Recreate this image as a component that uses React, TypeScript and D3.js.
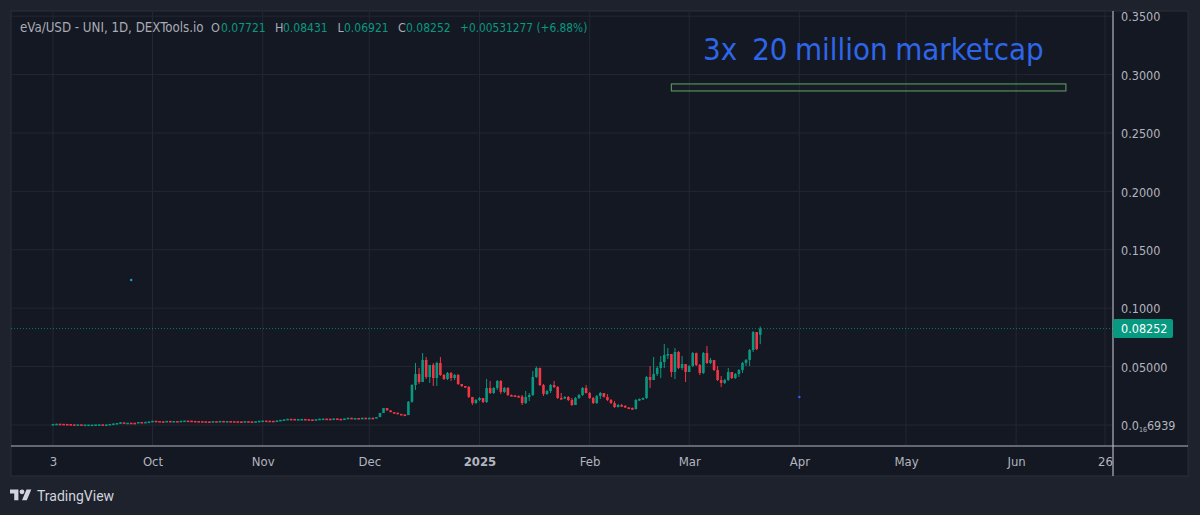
import React, { useEffect, useRef } from "react";
import * as d3 from "d3";

const WIDTH = 1200;
const HEIGHT = 515;
const FONT = '"DejaVu Sans Condensed", "DejaVu Sans", sans-serif';

const UP = "#089981";
const DOWN = "#f23645";

// daily closes, one array per month
const closeSep = [.0009, .0011, .0010, .0009, .0008, .0006, .0005, .0006, .0003, .0004, .0004, .0004, .0005, .0006, .0005, .0005, .0009, .0013, .0017, .0023, .0020, .0020, .0019, .0017, .0026, .0022, .0027, .0030];
const closeOct = [.0036, .0034, .0032, .0031, .0035, .0034, .0034, .0033, .0036, .0038, .0037, .0035, .0034, .0033, .0032, .0031, .0030, .0033, .0032, .0035, .0033, .0034, .0033, .0032, .0031, .0029, .0033, .0031, .0028, .0032, .0036];
const closeNov = [.0038, .0037, .0036, .0035, .0039, .0044, .0048, .0053, .0052, .0050, .0051, .0052, .0050, .0048, .0046, .0050, .0054, .0055, .0054, .0052, .0056, .0053, .0052, .0056, .0062, .0060, .0060, .0059, .0062, .0060];
const closeDec = [.0062, .0060, .0068, .0103, .0145, .0125, .0110, .0105, .0095, .0090, .0085, .0199, .0342, .0437, .0368, .0557, .0411, .0514, .0402, .0531, .0428, .0394, .0445, .0402, .0428, .0351, .0334, .0325, .0240, .0188, .0214];
const closeJan = [.0231, .0197, .0317, .0274, .0317, .0377, .0283, .0317, .0257, .0253, .0248, .0244, .0188, .0240, .0257, .0411, .0488, .0342, .0265, .0291, .0342, .0325, .0231, .0227, .0240, .0214, .0171, .0231, .0257, .0317, .0274];
const closeFeb = [.0231, .0188, .0248, .0274, .0240, .0214, .0188, .0154, .0171, .0163, .0150, .0146, .0137, .0214, .0223, .0231, .0411, .0385, .0437, .0488, .0539, .0599, .0608, .0454, .0625, .0488, .0522, .0454];
const closeMar = [.0505, .0616, .0514, .0445, .0616, .0531, .0557, .0471, .0385, .0360, .0385, .0454, .0402, .0437, .0471, .0531, .0557, .0642, .0796, .0650, .08252];

// wicks are only visible from the December breakout on
const firstWickDay = 100;
const highDec = [.0205, .0350, .0531, .0488, .0616, .0582, .0514, .0531, .0542, .0582, .0437, .0454, .0454, .0437, .0437, .0351, .0334, .0334, .0240, .0223];
const lowDec = [.0085, .0190, .0300, .0351, .0402, .0394, .0360, .0334, .0334, .0420, .0385, .0385, .0377, .0385, .0343, .0325, .0317, .0231, .0171, .0180];
const highJan = [.0240, .0214, .0394, .0377, .0325, .0385, .0385, .0325, .0325, .0261, .0257, .0253, .0257, .0291, .0274, .0462, .0501, .0492, .0351, .0300, .0351, .0377, .0334, .0274, .0248, .0248, .0231, .0240, .0265, .0325, .0342];
const lowJan = [.0205, .0188, .0188, .0265, .0265, .0300, .0265, .0274, .0248, .0244, .0240, .0235, .0171, .0180, .0205, .0248, .0402, .0334, .0248, .0257, .0274, .0317, .0223, .0218, .0223, .0205, .0163, .0180, .0223, .0248, .0270];
const highFeb = [.0283, .0240, .0257, .0283, .0274, .0265, .0223, .0205, .0180, .0180, .0171, .0154, .0150, .0223, .0227, .0235, .0419, .0505, .0582, .0505, .0591, .0693, .0659, .0608, .0659, .0633, .0591, .0522];
const lowFeb = [.0223, .0180, .0180, .0223, .0235, .0205, .0180, .0146, .0150, .0154, .0146, .0141, .0128, .0133, .0205, .0214, .0223, .0317, .0385, .0419, .0402, .0488, .0565, .0411, .0394, .0479, .0471, .0368];
const highMar = [.0514, .0625, .0620, .0522, .0625, .0676, .0574, .0548, .0505, .0419, .0394, .0488, .0454, .0445, .0479, .0539, .0565, .0651, .0805, .0796, .08431];
const lowMar = [.0454, .0496, .0505, .0428, .0437, .0522, .0522, .0462, .0377, .0325, .0351, .0377, .0394, .0394, .0411, .0445, .0505, .0505, .0625, .0640, .06921];

const lastOpen = 0.07721;
const lastClose = 0.08252;

const closes = [...closeSep, ...closeOct, ...closeNov, ...closeDec, ...closeJan, ...closeFeb, ...closeMar];
const highs = [...highDec, ...highJan, ...highFeb, ...highMar];
const lows = [...lowDec, ...lowJan, ...lowFeb, ...lowMar];

const priceTicks = [0.35, 0.3, 0.25, 0.2, 0.15, 0.1, 0.05, 0];
const priceLabels = ["0.3500", "0.3000", "0.2500", "0.2000", "0.1500", "0.1000", "0.05000", "0.0|16|6939"];

const timeTicks = ["2024-09-03", "2024-10-01", "2024-11-01", "2024-12-01", "2025-01-01", "2025-02-01", "2025-03-01", "2025-04-01", "2025-05-01", "2025-06-01", "2025-06-26"];
const timeLabels = ["3", "Oct", "Nov", "Dec", "2025", "Feb", "Mar", "Apr", "May", "Jun", "26"];

const strayDates = ["2024-09-25", "2025-04-01"];
const strayPrices = [0.1241, 0.024];
const strayColors = ["#19a7c4", "#2962ff"];

const zoneDates = ["2025-02-24", "2025-06-15"];
const zonePrices = [0.286, 0.292];

const legendParts = [
  { x: 20, text: "eVa/USD - UNI, 1D, DEXTools.io", fill: "#a9acb5", size: 13.2 },
  { x: 211, text: "O", fill: "#a9acb5", size: 12.5 },
  { x: 221, text: "0.07721", fill: UP, size: 12 },
  { x: 275, text: "H", fill: "#a9acb5", size: 12.5 },
  { x: 283, text: "0.08431", fill: UP, size: 12 },
  { x: 337.5, text: "L", fill: "#a9acb5", size: 12.5 },
  { x: 344, text: "0.06921", fill: UP, size: 12 },
  { x: 398, text: "C", fill: "#a9acb5", size: 12.5 },
  { x: 406, text: "0.08252", fill: UP, size: 12 },
  { x: 460, text: "+0.00531277 (+6.88%)", fill: UP, size: 11.8 },
];

const App: React.FC = () => {
  const svgRef = useRef<SVGSVGElement | null>(null);

  useEffect(() => {
    if (!svgRef.current) return;
    const svg = d3.select(svgRef.current);
    svg.selectAll("*").remove();
    svg.attr("font-family", FONT);

    const start = new Date("2024-09-03");
    const xScale = d3.scaleUtc().domain([start, new Date("2025-06-26")]).range([53, 1105]);
    const yScale = d3.scaleLinear().domain([0, 0.35]).range([425, 16.2]);

    const left = 11;
    const top = 11;
    const right = 1188;
    const bottom = 476;
    const axisX = 1113;
    const axisY = 446;

    svg.append("rect").attr("width", WIDTH).attr("height", HEIGHT).attr("fill", "#1e222d");
    svg
      .append("rect")
      .attr("x", left)
      .attr("y", top)
      .attr("width", right - left)
      .attr("height", bottom - top)
      .attr("fill", "#141823")
      .attr("stroke", "#2a2e39");

    const tickDates = timeTicks.map((d) => new Date(d));

    // grid
    svg
      .append("g")
      .selectAll("line")
      .data(tickDates)
      .enter()
      .append("line")
      .attr("x1", (d) => xScale(d))
      .attr("x2", (d) => xScale(d))
      .attr("y1", top)
      .attr("y2", axisY)
      .attr("stroke", "#232733");
    svg
      .append("g")
      .selectAll("line")
      .data(priceTicks)
      .enter()
      .append("line")
      .attr("x1", left)
      .attr("x2", axisX)
      .attr("y1", (d) => yScale(d))
      .attr("y2", (d) => yScale(d))
      .attr("stroke", "#232733");

    // target zone and note
    svg
      .append("rect")
      .attr("x", xScale(new Date(zoneDates[0])))
      .attr("y", yScale(zonePrices[1]))
      .attr("width", xScale(new Date(zoneDates[1])) - xScale(new Date(zoneDates[0])))
      .attr("height", yScale(zonePrices[0]) - yScale(zonePrices[1]))
      .attr("fill", "rgba(76,175,80,0.03)")
      .attr("stroke", "#568f5c")
      .attr("stroke-width", 1.2);
    svg
      .append("text")
      .attr("x", 703)
      .attr("y", 60)
      .attr("font-size", 30.9)
      .attr("word-spacing", -1.3)
      .attr("fill", "#2e66ea")
      .style("white-space", "pre")
      .text("3x  20 million marketcap");

    // last price line
    svg
      .append("line")
      .attr("x1", left)
      .attr("x2", axisX)
      .attr("y1", yScale(lastClose))
      .attr("y2", yScale(lastClose))
      .attr("stroke", UP)
      .attr("stroke-dasharray", "1 2")
      .attr("opacity", 0.75);

    // candles
    const candles = closes.map((close, i) => {
      const open = i === closes.length - 1 ? lastOpen : i === 0 ? close : closes[i - 1];
      const hasWick = i >= firstWickDay;
      return {
        date: d3.utcDay.offset(start, i),
        open,
        close,
        high: hasWick ? highs[i - firstWickDay] : Math.max(open, close),
        low: hasWick ? lows[i - firstWickDay] : Math.min(open, close),
      };
    });
    const candleColor = (d: { open: number; close: number }) => (d.close >= d.open ? UP : DOWN);

    const candle = svg.append("g").selectAll("g").data(candles).enter().append("g");
    candle
      .append("line")
      .attr("x1", (d) => xScale(d.date))
      .attr("x2", (d) => xScale(d.date))
      .attr("y1", (d) => yScale(d.high))
      .attr("y2", (d) => yScale(d.low))
      .attr("stroke", candleColor)
      .attr("stroke-width", 1);
    candle
      .append("rect")
      .attr("x", (d) => xScale(d.date) - 1.3)
      .attr("y", (d) => yScale(Math.max(d.open, d.close)))
      .attr("width", 2.6)
      .attr("height", (d) => Math.max(1.6, Math.abs(yScale(d.open) - yScale(d.close))))
      .attr("fill", candleColor);

    // stray drawing points
    svg
      .append("g")
      .selectAll("circle")
      .data(strayDates)
      .enter()
      .append("circle")
      .attr("cx", (d) => xScale(new Date(d)))
      .attr("cy", (_, i) => yScale(strayPrices[i]))
      .attr("r", 1.2)
      .attr("fill", (_, i) => strayColors[i]);

    // axes
    const xAxis = svg
      .append("g")
      .attr("transform", `translate(0, ${axisY})`)
      .call(
        d3
          .axisBottom(xScale)
          .tickValues(tickDates)
          .tickSize(0)
          .tickPadding(11)
          .tickFormat((_, i) => timeLabels[i])
      );
    xAxis.select(".domain").remove();
    xAxis
      .selectAll<SVGTextElement, Date>("text")
      .attr("font-family", FONT)
      .attr("font-size", 13)
      .attr("fill", "#b2b5be")
      .attr("font-weight", (_, i) => (timeLabels[i] === "2025" ? "bold" : "normal"));

    const yAxis = svg
      .append("g")
      .attr("transform", `translate(${axisX}, 0.7)`)
      .call(
        d3
          .axisRight(yScale)
          .tickValues(priceTicks)
          .tickSize(0)
          .tickPadding(8)
          .tickFormat((_, i) => priceLabels[i])
      );
    yAxis.select(".domain").remove();
    yAxis
      .selectAll<SVGTextElement, number>("text")
      .attr("font-family", FONT)
      .attr("font-size", 12.5)
      .attr("fill", "#b2b5be")
      .each(function () {
        // the tiny-price label has a subscript run of zeros
        const el = d3.select(this);
        const parts = el.text().split("|");
        if (parts.length < 3) return;
        el.text(parts[0]);
        el.append("tspan").attr("font-size", 7).attr("dy", 2).text(parts[1]);
        el.append("tspan").attr("dy", -2).text(parts[2]);
      });

    svg.append("line").attr("x1", left).attr("x2", right).attr("y1", axisY).attr("y2", axisY).attr("stroke", "#b2b5be").attr("stroke-width", 1.2);
    svg.append("line").attr("x1", axisX).attr("x2", axisX).attr("y1", top).attr("y2", bottom).attr("stroke", "#b2b5be").attr("stroke-width", 1.2);

    // last price tag
    svg
      .append("rect")
      .attr("x", axisX)
      .attr("y", yScale(lastClose) - 9.5)
      .attr("width", 60)
      .attr("height", 19)
      .attr("rx", 2)
      .attr("fill", UP);
    svg
      .append("text")
      .attr("x", axisX + 8)
      .attr("y", yScale(lastClose))
      .attr("dy", "0.34em")
      .attr("font-size", 12.5)
      .attr("fill", "#ffffff")
      .text(d3.format(".5f")(lastClose));

    // legend line
    svg
      .append("g")
      .selectAll("text")
      .data(legendParts)
      .enter()
      .append("text")
      .attr("x", (d) => d.x)
      .attr("y", 32)
      .attr("font-size", (d) => d.size)
      .attr("fill", (d) => d.fill)
      .text((d) => d.text);

    // footer logo
    const logo = svg.append("g").attr("transform", "translate(10, 487) scale(0.6)").attr("fill", "#d1d4dc");
    logo.append("path").attr("d", "M14 22H7V11H0V4h14v18zM28 22h-8l7.5-18h8L28 22z");
    logo.append("circle").attr("cx", 20).attr("cy", 8).attr("r", 4);
    svg
      .append("text")
      .attr("x", 37)
      .attr("y", 501)
      .attr("font-family", "Roboto, sans-serif")
      .attr("font-size", 14)
      .attr("fill", "#d1d4dc")
      .text("TradingView");
  }, []);

  return (
    <svg
      ref={svgRef}
      width={WIDTH}
      height={HEIGHT}
      style={{ position: "absolute", left: 0, top: 0 }}
    />
  );
};

export default App;
